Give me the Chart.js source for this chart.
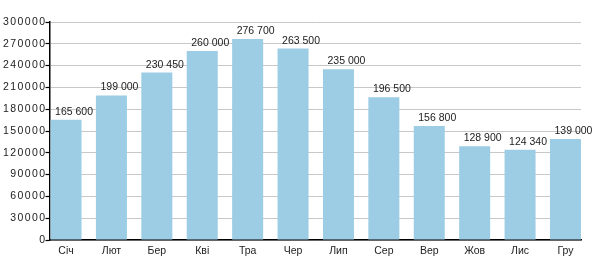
<!DOCTYPE html>
<html>
<head>
<meta charset="utf-8">
<script src="https://cdn.jsdelivr.net/npm/chart.js@4/dist/chart.umd.min.js"></script>
<style>
  html, body { margin: 0; padding: 0; background: #fff; }
  #wrap { width: 600px; height: 280px; }
</style>
</head>
<body>
<div id="wrap"><canvas id="chart" width="600" height="280"></canvas></div>
<script>
// months + values
const months = ['Січ', 'Лют', 'Бер', 'Кві', 'Тра', 'Чер', 'Лип', 'Сер', 'Вер', 'Жов', 'Лис', 'Гру'];
const values = [165600, 199000, 230450, 260000, 276700, 263500, 235000, 196500, 156800, 128900, 124340, 139000];
const yMin = 0, yMax = 300000, yStep = 30000;
// x runs on a linear index scale so first bar sits on the axis and last one on the right edge
const xMin = -0.364, xMax = 11.342;

const FONT = 'Liberation Sans, Arial, Helvetica, sans-serif';
const TEXT = '#222';

function fmtSpace(v) {
    return String(v).replace(/\B(?=(\d{3})+(?!\d))/g, ' ');
}

// y tick labels drawn by hand so they can get the wide letter spacing of the original
const yLabels = {
    id: 'yLabels',
    afterDraw(chart) {
        const ctx = chart.ctx, sc = chart.scales.y;
        ctx.save();
        ctx.font = '10.5px ' + FONT;
        ctx.letterSpacing = '1.4px';
        ctx.fillStyle = TEXT;
        ctx.textAlign = 'right';
        ctx.textBaseline = 'middle';
        sc.ticks.forEach(function(t, i) {
            ctx.fillText(String(t.value), sc.right - 3, sc.getPixelForTick(i));
        });
        ctx.restore();
    }
};

// value labels above the bars, a bit right of centre like the reference
const barLabels = {
    id: 'barLabels',
    afterDatasetsDraw(chart) {
        const ctx = chart.ctx;
        const meta = chart.getDatasetMeta(0);
        ctx.save();
        ctx.font = '10.5px ' + FONT;
        ctx.fillStyle = TEXT;
        ctx.textAlign = 'center';
        ctx.textBaseline = 'alphabetic';
        meta.data.forEach(function(bar, i) {
            ctx.fillText(fmtSpace(values[i]), bar.x + 8, bar.y - 5);
        });
        ctx.restore();
    }
};

new Chart(document.getElementById('chart'), {
    type: 'bar',
    data: {
        datasets: [{
            data: values.map(function(v, i) { return { x: i, y: v }; }),
            backgroundColor: '#9ccde4',
            borderWidth: 0,
            categoryPercentage: 1,
            barPercentage: 0.683
        }]
    },
    options: {
        responsive: false,
        animation: false,
        layout: { padding: { top: 22, right: 19, bottom: 0, left: 0 } },
        plugins: { legend: { display: false }, tooltip: { enabled: false } },
        scales: {
            x: {
                type: 'linear',
                offset: false,
                min: xMin, max: xMax,
                afterBuildTicks: function(axis) {
                    axis.ticks = months.map(function(m, i) { return { value: i }; });
                },
                grid: { display: false, drawTicks: false, offset: false },
                border: { color: '#000', width: 1.5 },
                ticks: {
                    color: TEXT, font: { family: FONT, size: 10.5 }, padding: 5,
                    autoSkip: false, maxRotation: 0,
                    callback: function(v) { return months[v]; }
                },
                afterFit: function(s) { s.height = 40; }
            },
            y: {
                min: yMin, max: yMax,
                afterBuildTicks: function(axis) {
                    const t = [];
                    for (let v = yMin; v <= yMax; v += yStep) t.push({ value: v });
                    axis.ticks = t;
                },
                grid: { color: '#c8c8c8', tickColor: '#000', tickLength: 4, tickWidth: 1.2 },
                border: { color: '#000', width: 1.5 },
                ticks: { color: 'rgba(0,0,0,0)', font: { family: FONT, size: 10 }, padding: 1 },
                afterFit: function(s) { s.width = 49.5; }
            }
        }
    },
    plugins: [barLabels, yLabels]
});
</script>
</body>
</html>
